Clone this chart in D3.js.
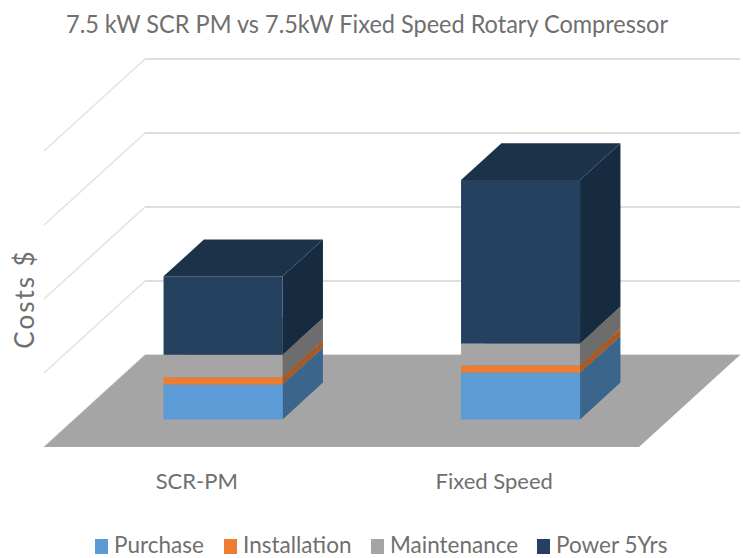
<!DOCTYPE html>
<html>
<head>
  <title>7.5 kW SCR PM vs 7.5kW Fixed Speed Rotary Compressor</title>
  <script src="https://d3js.org/d3.v7.min.js"></script>
  <style>
    html, body { margin: 0; padding: 0; background: #fff; }
    svg { display: block; }
    text { font-family: Lato, sans-serif; fill: #6f6f6f; }
  </style>
</head>
<body>
  <div id="chart"></div>

  <script>
    // Values (the source has no value labels)
    const categories = ["SCR-PM", "Fixed Speed"];
    const seriesNames = ["Purchase", "Installation", "Maintenance", "Power 5Yrs"];
    const purchase = [946, 1262];
    const installation = [190, 197];
    const maintenance = [610, 595];
    const power5Yrs = [2120, 4414];
    const gridTicks = [0, 2000, 4000, 6000, 8000];

    const frontColors = ["#5b9bd5", "#ed7d31", "#a5a5a5", "#254061"];
    const sideColors = ["#3a658c", "#a85a24", "#6d6d6d", "#182b41"];
    const topColors = ["#4a80b0", "#c56a2a", "#8a8a8a", "#1e3049"];

    const width = 743, height = 558;

    // Floor corners: front edge runs from (44,447), depth moves the point by (101,-92)
    const floorLeft = 44, floorBottom = 447, floorWidth = 595;
    const depthX = 101, depthY = 92;

    const svg = d3.select("#chart").append("svg")
      .attr("width", width)
      .attr("height", height);

    // The source picture is a soft resample, so the marks get a slight blur
    svg.append("defs").append("filter")
      .attr("id", "soft")
      .append("feGaussianBlur")
      .attr("stdDeviation", 0.45);
    const marks = svg.append("g").attr("filter", "url(#soft)");

    const xScale = d3.scaleBand()
      .domain(categories)
      .range([0, floorWidth])
      .paddingInner(0.6)
      .paddingOuter(0.3);

    // Bars sit in the middle 40% of the floor depth
    const zScale = d3.scaleBand()
      .domain(["bars"])
      .range([0, 1])
      .paddingInner(0.6)
      .paddingOuter(0.3);

    const yScale = d3.scaleLinear()
      .domain([0, 8000])
      .range([0, 296]);

    // x along the floor, v in dollars, z depth from 0 (front) to 1 (back)
    function project(x, v, z) {
      return [floorLeft + x + depthX * z, floorBottom - depthY * z - yScale(v)];
    }

    function poly(points) {
      return "M" + points.map(p => p.join(",")).join("L") + "Z";
    }

    // Back wall and side wall gridlines
    const grid = marks.append("g");
    gridTicks.forEach(function(t) {
      grid.append("path")
        .attr("d", d3.line()([project(floorWidth, t, 1), project(0, t, 1)]))
        .attr("fill", "none")
        .attr("stroke", "#dedede")
        .attr("stroke-width", 2);
      grid.append("path")
        .attr("d", d3.line()([project(0, t, 1), project(0, t, 0)]))
        .attr("fill", "none")
        .attr("stroke", "#e2e2e2")
        .attr("stroke-width", 1.5);
    });

    // Floor
    marks.append("path")
      .attr("d", poly([project(0, 0, 0), project(floorWidth, 0, 0), project(floorWidth, 0, 1), project(0, 0, 1)]))
      .attr("fill", "#a5a5a5");

    // Stack the four series, one box per category
    const stackRows = categories.map((c, i) => ({
      category: c,
      Purchase: purchase[i],
      Installation: installation[i],
      Maintenance: maintenance[i],
      "Power 5Yrs": power5Yrs[i]
    }));
    const stacked = d3.stack().keys(seriesNames)(stackRows);

    const z0 = zScale("bars"), z1 = z0 + zScale.bandwidth();

    stacked.forEach(function(layer, s) {
      layer.forEach(function(d) {
        const x0 = xScale(d.data.category), x1 = x0 + xScale.bandwidth();
        marks.append("path")
          .attr("d", poly([project(x1, d[0], z0), project(x1, d[0], z1), project(x1, d[1], z1), project(x1, d[1], z0)]))
          .attr("fill", sideColors[s]);
        marks.append("path")
          .attr("d", poly([project(x0, d[1], z0), project(x1, d[1], z0), project(x1, d[1], z1), project(x0, d[1], z1)]))
          .attr("fill", topColors[s]);
        marks.append("path")
          .attr("d", poly([project(x0, d[0], z0), project(x1, d[0], z0), project(x1, d[1], z0), project(x0, d[1], z0)]))
          .attr("fill", frontColors[s]);
      });
    });

    // Title, squeezed to the width it has in the source
    svg.append("text")
      .attr("x", 367)
      .attr("y", 33)
      .attr("text-anchor", "middle")
      .attr("font-size", 25)
      .attr("textLength", 602)
      .attr("lengthAdjust", "spacingAndGlyphs")
      .text("7.5 kW SCR PM vs 7.5kW Fixed Speed Rotary Compressor");

    // Category axis
    const xAxis = svg.append("g")
      .attr("transform", "translate(48,467)")
      .call(d3.axisBottom(xScale).tickSize(0).tickPadding(6));
    xAxis.select(".domain").remove();
    xAxis.selectAll("text")
      .attr("font-size", 22)
      .style("font-family", "Lato, sans-serif")
      .style("fill", "#6f6f6f");

    // Y axis title
    svg.append("text")
      .attr("transform", "translate(34,299) rotate(-90)")
      .attr("text-anchor", "middle")
      .attr("font-size", 26)
      .attr("letter-spacing", 2)
      .text("Costs $");

    // Legend
    const legendX = [95, 224, 371, 537];
    const legend = svg.append("g");
    seriesNames.forEach(function(name, i) {
      legend.append("rect")
        .attr("x", legendX[i])
        .attr("y", 539)
        .attr("width", 13)
        .attr("height", 15)
        .attr("fill", frontColors[i]);
      legend.append("text")
        .attr("x", legendX[i] + 19)
        .attr("y", 553)
        .attr("font-size", 22.5)
        .text(name);
    });
  </script>
</body>
</html>
